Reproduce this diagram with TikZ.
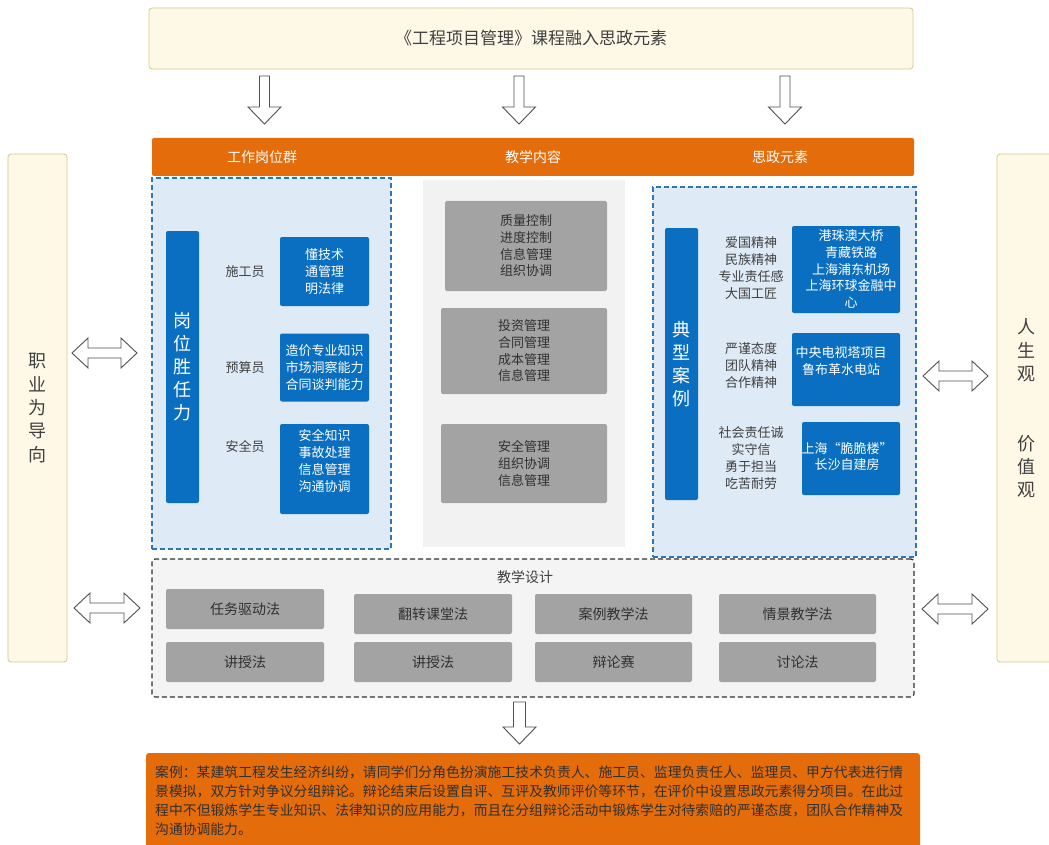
\documentclass[tikz,border=0pt]{standalone}
\usepackage{fontspec}
\setmainfont{Noto Sans CJK SC}
\XeTeXlinebreaklocale "zh"
\XeTeXlinebreakskip=0pt plus 1pt
\definecolor{orangeC}{HTML}{E46C0A}
\definecolor{blueC}{HTML}{0A6FC0}
\definecolor{paleblue}{HTML}{DEEAF6}
\definecolor{dashblue}{HTML}{2E75B6}
\definecolor{grayC}{HTML}{A3A3A3}
\definecolor{panelgray}{HTML}{F2F2F2}
\definecolor{designgray}{HTML}{F4F4F4}
\definecolor{txtC}{HTML}{303030}
\definecolor{lblC}{HTML}{404040}
\definecolor{creamC}{HTML}{FEF9E7}
\definecolor{creamD}{HTML}{D8C68C}
\definecolor{arrowC}{HTML}{505050}
\newcommand\fsz[2]{\fontsize{#1}{#2}\selectfont}
\newcommand\downblock[6]{%
  \draw[hollow] (#1-#5,#2) -- (#1+#5,#2) -- (#1+#5,#3) -- (#1+#6,#3) -- (#1,#4) -- (#1-#6,#3) -- (#1-#5,#3) -- cycle;}
\newcommand\lrblock[6]{%
  \draw[hollow] (#1,#3) -- (#1+#4,#3-#6) -- (#1+#4,#3-#5) -- (#2-#4,#3-#5) -- (#2-#4,#3-#6) -- (#2,#3) -- (#2-#4,#3+#6) -- (#2-#4,#3+#5) -- (#1+#4,#3+#5) -- (#1+#4,#3+#6) -- cycle;}
\tikzset{
  basebox/.style={inner sep=0pt, align=center, rounded corners=2pt},
  bluebox/.style={basebox, fill=blueC, text=white, font=\fsz{13}{16.7}},
  btext/.style={inner sep=0pt, align=center, text=white, font=\fsz{13}{16.7}},
  graybox/.style={basebox, fill=grayC, text=txtC, font=\fsz{13}{16.7}},
  methbox/.style={basebox, fill=grayC, text=txtC, font=\fsz{14}{17}, minimum width=158pt, minimum height=40pt},
  lbl/.style={inner sep=0pt, align=center, text=lblC, font=\fsz{13}{17}},
  vbar/.style={basebox, fill=blueC, text=white, font=\fsz{18}{23}, minimum width=33pt, minimum height=272pt},
  cream/.style={fill=creamC, draw=creamD, line width=0.8pt, rounded corners=3pt, inner sep=0pt},
  dashpanel/.style={fill=paleblue, draw=dashblue, line width=1.2pt, dash pattern=on 5pt off 3pt, inner sep=0pt},
  hollow/.style={draw=arrowC, fill=white, line width=0.9pt, line join=miter}
}
\begin{document}
\begin{tikzpicture}[x=1pt,y=-1pt]
\useasboundingbox (0,0) rectangle (1049,845);
% title
\node[cream, minimum width=764pt, minimum height=61pt, text=lblC, font=\fsz{17}{20}] (title) at (531,38.5) {《工程项目管理》课程融入思政元素};
% down arrows
\downblock{264.5}{76}{107}{124}{5}{16.5}
\downblock{519}{76}{107}{124}{5}{16.5}
\downblock{785}{76}{107}{124}{5}{16.5}
% orange header bar
\node[fill=orangeC, rounded corners=2pt, minimum width=762pt, minimum height=38pt, inner sep=0pt] (bar) at (533,157) {};
\node[text=white, font=\fsz{14}{17}, inner sep=0pt] (h1) at (262,157) {工作岗位群};
\node[text=white, font=\fsz{14}{17}, inner sep=0pt] (h2) at (533,157) {教学内容};
\node[text=white, font=\fsz{14}{17}, inner sep=0pt] (h3) at (780,157) {思政元素};
% side cream boxes
\node[cream, minimum width=59pt, minimum height=508pt, text=lblC, font=\fsz{18}{23.3}, align=center] (left) at (37.5,408) {职\\业\\为\\导\\向};
\draw[fill=creamC, draw=creamD, line width=0.8pt, rounded corners=3pt] (997,154) rectangle (1060,662);
\node[inner sep=0pt, text=lblC, font=\fsz{18}{23.3}, align=center] (rightt) at (1026,408.5) {人\\生\\观\\[46.6pt]价\\值\\观};
% left panel
\node[dashpanel, minimum width=239pt, minimum height=371pt] (lp) at (271.5,363.5) {};
\node[vbar] (gw) at (182.5,367) {岗\\位\\胜\\任\\力};
\node[lbl] (l1) at (245,272) {施工员};
\node[lbl] (l2) at (245,368) {预算员};
\node[lbl] (l3) at (245,447) {安全员};
\node[bluebox, minimum width=89pt, minimum height=69pt] (b1) at (324.5,271.5) {懂技术\\通管理\\明法律};
\node[bluebox, minimum width=89pt, minimum height=68pt] (b2) at (324.5,367.5) {造价专业知识\\市场洞察能力\\合同谈判能力};
\node[bluebox, minimum width=89pt, minimum height=90pt] (b3) at (324.5,469) {};
\node[btext] (b3t) at (324.5,461) {安全知识\\事故处理\\信息管理\\沟通协调};
% middle panel
\node[fill=panelgray, inner sep=0pt, minimum width=202pt, minimum height=367pt] (mp) at (524,363.5) {};
\node[graybox, minimum width=162pt, minimum height=90pt] (g1) at (526,246) {质量控制\\进度控制\\信息管理\\组织协调};
\node[graybox, minimum width=166pt, minimum height=86pt] (g2) at (524,351) {投资管理\\合同管理\\成本管理\\信息管理};
\node[graybox, minimum width=166pt, minimum height=79pt] (g3) at (524,463.5) {安全管理\\组织协调\\信息管理};
% right panel
\node[dashpanel, minimum width=263pt, minimum height=370pt] (rp) at (784.5,372) {};
\node[vbar] (dx) at (681.5,364) {典\\型\\案\\例};
\node[lbl] (s1) at (751,268.5) {爱国精神\\民族精神\\专业责任感\\大国工匠};
\node[lbl] (s2) at (751,365.5) {严谨态度\\团队精神\\合作精神};
\node[lbl] (s3) at (751,458) {社会责任诚\\实守信\\勇于担当\\吃苦耐劳};
\node[bluebox, minimum width=108pt, minimum height=87pt] (r1) at (846,269.5) {};
\node[btext] (r1t) at (851,269) {港珠澳大桥\\青藏铁路\\上海浦东机场\\上海环球金融中\\心};
\node[bluebox, minimum width=108pt, minimum height=73pt] (r2) at (846,369.5) {};
\node[btext] (r2t) at (841,361) {中央电视塔项目\\鲁布革水电站};
\node[bluebox, minimum width=98pt, minimum height=73pt] (r3) at (851,458.5) {};
\node[btext] (r3t) at (847,456.5) {上海“脆脆楼”\\长沙自建房};
% double arrows
\lrblock{72}{137}{353}{16}{5}{15}
\lrblock{923}{988}{376}{16}{5}{15}
\lrblock{74}{140}{608}{16}{5}{15}
\lrblock{922}{988}{609}{16}{5}{15}
% design box
\node[fill=designgray, draw=txtC, line width=1.2pt, dash pattern=on 5pt off 3pt, rounded corners=3pt, inner sep=0pt, minimum width=762pt, minimum height=138pt] (design) at (533,628) {};
\node[text=lblC, font=\fsz{14}{17}, inner sep=0pt] (dt) at (525,577) {教学设计};
\node[methbox] (m1) at (245,609) {任务驱动法};
\node[methbox] (m2) at (433,614) {翻转课堂法};
\node[methbox, minimum width=157pt] (m3) at (613.5,614) {案例教学法};
\node[methbox, minimum width=157pt] (m4) at (797.5,614) {情景教学法};
\node[methbox] (m5) at (245,662) {讲授法};
\node[methbox] (m6) at (433,662) {讲授法};
\node[methbox, minimum width=157pt] (m7) at (613.5,662) {辩论赛};
\node[methbox, minimum width=157pt] (m8) at (797.5,662) {讨论法};
% bottom arrow
\downblock{519.5}{702}{727}{744}{6}{16.5}
% bottom case box
\draw[fill=orangeC, draw=none, rounded corners=3pt] (146,753) rectangle (920,860);
\node[anchor=north west, inner sep=0pt, text width=748pt, align=justify, text=txtC, font=\fsz{13.8}{19}] (case) at (155,766) {案例：某建筑工程发生经济纠纷，请同学们分角色扮演施工技术负责人、施工员、监理负责任人、监理员、甲方代表进行情\linebreak 景模拟，双方针对争议分组辩论。辩论结束后设置自评、互评及教师评价等环节，在评价中设置思政元素得分项目。在此过\linebreak 程中不但锻炼学生专业知识、法律知识的应用能力，而且在分组辩论活动中锻炼学生对待索赔的严谨态度，团队合作精神及\linebreak 沟通协调能力。};
\end{tikzpicture}
\end{document}
